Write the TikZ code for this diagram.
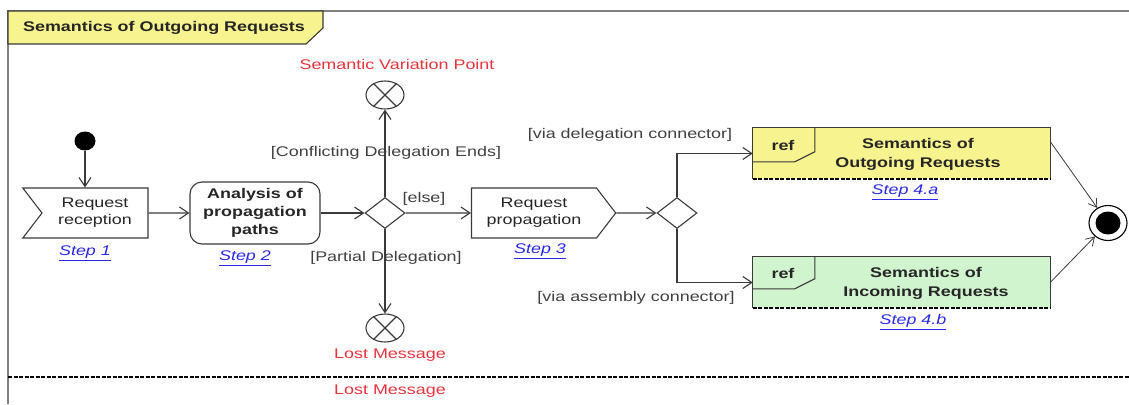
\documentclass[tikz,border=0pt]{standalone}
\usepackage{fontspec}
\setmainfont{Liberation Sans}[FakeStretch=1.28]
\usetikzlibrary{arrows.meta,positioning,shapes.geometric,shapes.symbols}
\definecolor{refyellow}{HTML}{F7F38E}
\definecolor{refgreen}{HTML}{D0F4CE}
\definecolor{pointred}{HTML}{E8343C}
\definecolor{linkblue}{HTML}{2A2AE6}
\definecolor{umlline}{HTML}{3A3A3A}

\tikzset{
  flow/.style={-{Straight Barb[length=9pt,width=12pt]},umlline,line width=1.1pt},
  thinflow/.style={-{Straight Barb[length=8pt,width=10pt]},umlline,line width=0.8pt},
  action/.style={draw=umlline,line width=1.1pt,align=center,text=black!85},
  decision/.style={diamond,draw=umlline,line width=1.1pt,fill=white,minimum width=40pt,minimum height=31pt,inner sep=0pt},
  xpoint/.style={ellipse,draw=umlline,line width=1.1pt,minimum width=38pt,minimum height=28pt,inner sep=0pt},
  guard/.style={text=black!75},
  redlabel/.style={text=pointred},
  steplink/.style={text=linkblue,font=\fontsize{14}{17}\selectfont\itshape},
  refbox/.style={minimum width=297pt,minimum height=51pt,inner sep=0pt},
  reftext/.style={align=center,font=\fontsize{14}{19}\selectfont\bfseries,text=black!85}
}

\begin{document}
\begin{tikzpicture}[x=1pt,y=-1pt,font=\fontsize{14}{17}\selectfont]
\useasboundingbox (0,0) rectangle (1129,404);
% frame and title tab
\draw[gray,line width=1.8pt] (8,404) -- (8,11) -- (1129,11);
\draw[fill=refyellow,draw=umlline,line width=1.1pt] (8,11) -- (323,11) -- (323,28) -- (306,44) -- (8,44) -- cycle;
\node[font=\fontsize{14}{17}\selectfont\bfseries,text=black!85] (title) at (164,28) {Semantics of Outgoing Requests};

% steps 1 to 3
\node[ellipse,fill=black,minimum width=21pt,minimum height=19pt,inner sep=0pt] (init) at (85,141) {};
\node[action,signal,signal from=west,signal to=nowhere,signal pointer angle=105,
      text width=90pt,inner xsep=8pt,minimum height=50pt] (recv) at (95,213) {Request\\reception};
\node[steplink] (step1) at (85,253) {\underline{Step 1}};
\node[action,rounded corners=12pt,minimum width=130pt,minimum height=62pt,
      font=\fontsize{14}{18}\selectfont\bfseries] (analysis) at (255,213) {Analysis of\\propagation\\paths};
\node[steplink] (step2) at (245,258) {\underline{Step 2}};
\node[decision] (dec1) at (385,213) {};
\node[xpoint] (svp) at (385,95) {};
\draw[umlline,line width=1.1pt] (svp.45) -- (svp.225) (svp.135) -- (svp.315);
\node[redlabel] (svptext) at (397,64) {Semantic Variation Point};
\node[xpoint] (lost) at (385,328) {};
\draw[umlline,line width=1.1pt] (lost.45) -- (lost.225) (lost.135) -- (lost.315);
\node[redlabel] (losttext) at (390,355) {Lost Message};
\node[guard] (conflict) at (386,153) {[Conflicting Delegation Ends]};
\node[guard] (partial) at (386,258) {[Partial Delegation]};
\node[guard] (else) at (424,199) {[else]};
\node[action,signal,signal to=east,signal from=nowhere,signal pointer angle=105,
      text width=109pt,inner xsep=8pt,minimum height=50pt] (send) at (534,213) {Request\\propagation};
\node[steplink] (step3) at (540,251) {\underline{Step 3}};

% step 4
\node[decision] (dec2) at (677,213) {};
\node[guard] (viadel) at (630,135) {[via delegation connector]};
\node[guard] (viaasm) at (636,298) {[via assembly connector]};

\node[refbox,fill=refyellow] (refout) at (901.5,153.5) {};
\draw[umlline,line width=1.1pt] (refout.south west) -- (refout.north west) -- (refout.north east) -- (refout.south east);
\draw[black,line width=1.8pt,dash pattern=on 4pt off 1.5pt] (refout.south west) -- (refout.south east);
\draw[umlline,line width=1.1pt] (refout.north west) ++(62,0) -- ++(0,24) -- ++(-20,10) -- ++(-42,0);
\node[font=\fontsize{14}{17}\selectfont\bfseries,text=black!85] (refa) at (783,145) {ref};
\node[reftext] (outtext) at (918,154) {Semantics of\\Outgoing Requests};
\node[steplink] (step4a) at (905,192) {\underline{Step 4.a}};

\node[refbox,fill=refgreen] (refin) at (901.5,282.5) {};
\draw[umlline,line width=1.1pt] (refin.south west) -- (refin.north west) -- (refin.north east) -- (refin.south east);
\draw[black,line width=1.8pt,dash pattern=on 4pt off 1.5pt] (refin.south west) -- (refin.south east);
\draw[umlline,line width=1.1pt] (refin.north west) ++(62,0) -- ++(0,22) -- ++(-20,10) -- ++(-42,0);
\node[font=\fontsize{14}{17}\selectfont\bfseries,text=black!85] (refb) at (783,273) {ref};
\node[reftext] (intext) at (926,283) {Semantics of\\Incoming Requests};
\node[steplink] (step4b) at (913,322) {\underline{Step 4.b}};

\node[ellipse,draw=black,line width=1.1pt,minimum width=38pt,minimum height=35pt,inner sep=0pt] (final) at (1108,223) {};
\node[ellipse,fill=black,minimum width=25pt,minimum height=23pt,inner sep=0pt] (finaldot) at (final) {};

% flows
\draw[flow] (init) -- (init |- recv.north);
\draw[flow] (recv) -- (analysis);
\draw[flow] (analysis) -- (dec1);
\draw[flow] (dec1) -- (svp);
\draw[flow] (dec1) -- (lost);
\draw[flow] (dec1) -- (send);
\draw[flow] (send) -- (dec2);
\draw[flow] (dec2.north) |- (refout);
\draw[flow] (dec2.south) |- (refin);
\draw[thinflow] ([yshift=12pt]refout.east) -- (final);
\draw[thinflow] (refin.east) -- (final);

% lower edge
\draw[black,line width=1.8pt,dash pattern=on 4pt off 1.5pt] (8,377) -- (1129,377);
\node[redlabel] (lostcopy) at (390,391) {Lost Message};
\end{tikzpicture}
\end{document}
